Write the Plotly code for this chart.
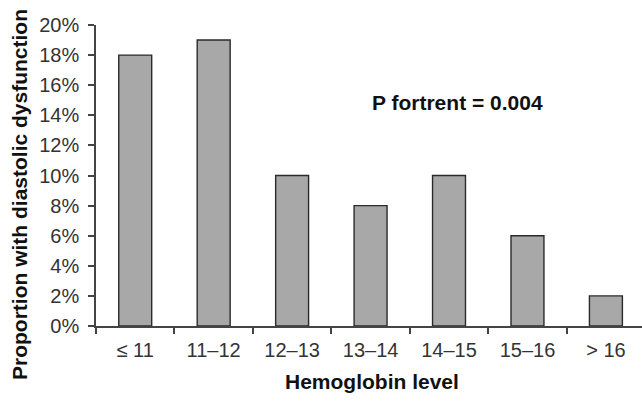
import plotly.graph_objects as go

categories = ["≤ 11", "11–12", "12–13", "13–14", "14–15", "15–16", "> 16"]
proportions = [0.18, 0.19, 0.10, 0.08, 0.10, 0.06, 0.02]
y_ticks = [0, 0.02, 0.04, 0.06, 0.08, 0.10, 0.12, 0.14, 0.16, 0.18, 0.20]

FONT = "Liberation Sans, Arial, sans-serif"

L, R, T, B = 96, 0, 25, 75
W, H = 642, 401
plot_w = W - L - R
plot_h = H - T - B

def px_x(x):
    return (x - L) / plot_w

def px_y(y):
    return (H - B - y) / plot_h

fig = go.Figure()
fig.add_trace(go.Bar(
    x=categories, y=proportions, width=0.42,
    marker=dict(color="#a8a8a8", line=dict(color="#2a2a2a", width=1.4)),
))

fig.update_layout(
    width=W, height=H,
    margin=dict(l=L, r=R, t=T, b=B),
    paper_bgcolor="white", plot_bgcolor="white",
    showlegend=False,
    font=dict(family=FONT, color="#222", size=20),
    xaxis=dict(
        range=[-0.5, 6.46],
        showline=True, linecolor="#444", linewidth=1.5,
        ticks="outside", tickson="boundaries", ticklen=6, tickcolor="#444", tickwidth=1.5,
        showgrid=False, zeroline=False,
        tickfont=dict(size=20, family=FONT, color="#333"),
        ticklabelstandoff=5,
    ),
    yaxis=dict(
        range=[0, 0.20], tickvals=y_ticks, tickformat=".0%",
        showline=True, linecolor="#444", linewidth=1.5,
        ticks="outside", ticklen=6, tickcolor="#444", tickwidth=1.5,
        showgrid=False, zeroline=False,
        tickfont=dict(size=20, family=FONT, color="#333"),
        ticklabelstandoff=5,
    ),
    annotations=[
        dict(
            x=px_x(457), y=px_y(102), xref="paper", yref="paper",
            xanchor="center", yanchor="middle",
            text="<b>P fortrent = 0.004</b>", showarrow=False,
            font=dict(size=21, family=FONT, color="#111"),
        ),
        dict(
            x=px_x(20), y=px_y(195), xref="paper", yref="paper",
            xanchor="center", yanchor="middle",
            text="<b>Proportion with diastolic dysfunction</b>", showarrow=False,
            textangle=-90,
            font=dict(size=21, family=FONT, color="#111"),
        ),
        dict(
            x=px_x(372), y=px_y(381), xref="paper", yref="paper",
            xanchor="center", yanchor="middle",
            text="<b>Hemoglobin level</b>", showarrow=False,
            font=dict(size=21, family=FONT, color="#111"),
        ),
    ],
)

fig.write_html(
    "out.html",
    config={"displayModeBar": False},
    post_script="document.body.style.margin='0';document.body.style.overflow='hidden';",
)
